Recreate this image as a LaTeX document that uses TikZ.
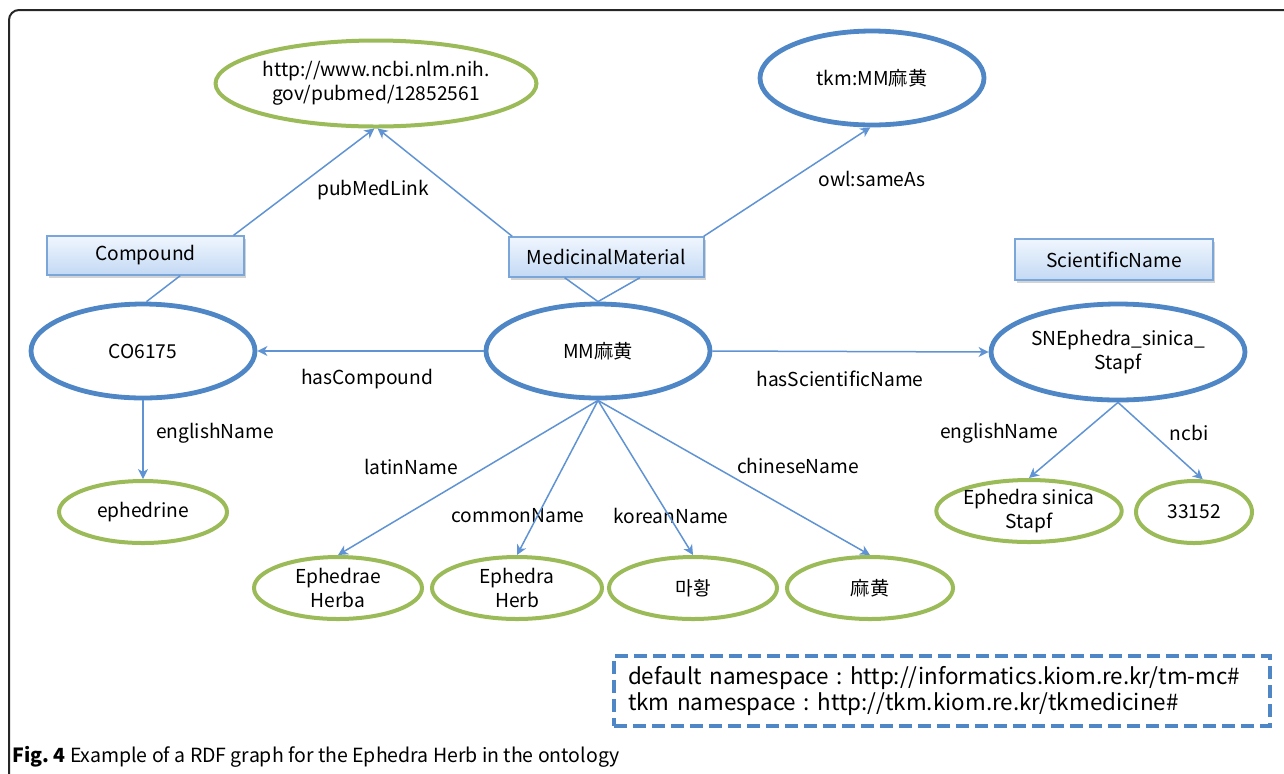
\documentclass[tikz,border=0pt]{standalone}
\usepackage{fontspec}
\setmainfont{Noto Sans CJK KR}
\frenchspacing
\usetikzlibrary{shapes.geometric,arrows.meta,calc,shadows}
\definecolor{nblue}{HTML}{4F86C6}
\definecolor{ngreen}{HTML}{9BBB59}
\definecolor{eblue}{HTML}{5F93D3}
\definecolor{bborder}{HTML}{7AA6DA}
\definecolor{btop}{HTML}{F0F6FE}
\definecolor{bbot}{HTML}{C3D9F4}
\begin{document}
\begin{tikzpicture}[x=0.5pt,y=-0.5pt,
  every node/.style={font=\fontsize{9.6}{12}\selectfont, inner sep=0pt},
  bluenode/.style={ellipse, draw=nblue, line width=2.4pt, align=center},
  greennode/.style={ellipse, draw=ngreen, line width=2pt, align=center},
  classbox/.style={rectangle, draw=bborder, line width=0.7pt, top color=btop, bottom color=bbot,
    drop shadow={shadow xshift=0.8pt, shadow yshift=-1.5pt, opacity=0.35}},
  conn/.style={draw=eblue, line width=0.75pt},
  arr/.style={conn, -{Stealth[length=5pt,width=5pt,inset=1.5pt]}},
  lbl/.style={text=black}
]
\useasboundingbox (0,0) rectangle (1284,773);
\draw[line width=1pt, draw=black!85, rounded corners=5pt] (1290,10) -- (9,10) -- (9,780);

% nodes
\node[greennode, minimum width=153pt, minimum height=43pt] (url) at (376,83.5) {http://www.ncbi.nlm.nih.\\gov/pubmed/12852561};
\node[bluenode, minimum width=112pt, minimum height=47pt] (tkm) at (872,78) {tkm:MM麻黄};
\node[classbox, minimum width=98.5pt, minimum height=19.5pt] (cmpd) at (145.5,255.5) {Compound};
\node[classbox, minimum width=97.5pt, minimum height=20pt] (mmc) at (606.5,257) {MedicinalMaterial};
\node[classbox, minimum width=99pt, minimum height=20.5pt] (snc) at (1114,259.5) {ScientificName};
\node[bluenode, minimum width=112pt, minimum height=47pt] (co) at (143,351) {CO6175};
\node[bluenode, minimum width=112pt, minimum height=47pt] (mm) at (598,351) {MM麻黄};
\node[bluenode, minimum width=127pt, minimum height=48pt] (sn) at (1118,352) {SNEphedra\_sinica\_\\Stapf};
\node[greennode, minimum width=84pt, minimum height=31pt] (eph) at (143,512) {ephedrine};
\node[greennode, minimum width=84pt, minimum height=31pt] (lat) at (338,588) {Ephedrae\\Herba};
\node[greennode, minimum width=85pt, minimum height=31pt] (com) at (517,588) {Ephedra\\Herb};
\node[greennode, minimum width=84pt, minimum height=31pt] (kor) at (693,588) {마황};
\node[greennode, minimum width=83pt, minimum height=31pt] (chi) at (870,588) {麻黄};
\node[greennode, minimum width=91pt, minimum height=31pt] (esn) at (1029,511) {Ephedra sinica\\Stapf};
\node[greennode, minimum width=58pt, minimum height=31pt] (ncb) at (1194,512) {33152};

% labels
\node[lbl] (l1) at (373,190) {pubMedLink};
\node[lbl] (l2) at (872,179) {owl:sameAs};
\node[lbl] (l3) at (367,379) {hasCompound};
\node[lbl] (l4) at (840,379) {hasScientificName};
\node[lbl] (l5) at (215,433) {englishName};
\node[lbl] (l6) at (411,467) {latinName};
\node[lbl] (l7) at (518,516) {commonName};
\node[lbl] (l8) at (671,516) {koreanName};
\node[lbl] (l9) at (798,466) {chineseName};
\node[lbl] (l10) at (999,433) {englishName};
\node[lbl] (l11) at (1189,433) {ncbi};

% connectors
\draw[arr] ($(cmpd.north west)!0.944!(cmpd.north east)$) -- (url.268);
\draw[arr] ($(mmc.north west)!0.02!(mmc.north east)$) -- (url.272);
\draw[arr] ($(mmc.north west)!0.995!(mmc.north east)$) -- (tkm.268);
\draw[conn] ($(cmpd.south west)!0.675!(cmpd.south east)$) -- (co.86);
\draw[conn] ($(mmc.south west)!0.287!(mmc.south east)$) -- (mm.north);
\draw[conn] ($(mmc.south west)!0.67!(mmc.south east)$) -- (mm.north);
\draw[arr] (mm.west) -- (co.east);
\draw[arr] (mm.east) -- (sn.west);
\draw[arr] (co.south) -- (eph.north);
\draw[arr] (mm.south) -- (lat.north);
\draw[arr] (mm.south) -- (com.north);
\draw[arr] (mm.south) -- (kor.north);
\draw[arr] (mm.south) -- (chi.north);
\draw[arr] (sn.south) -- (esn.north);
\draw[arr] (sn.south) -- (ncb.75);

% namespace box
\node[draw=nblue, line width=2pt, dash pattern=on 6.5pt off 3pt, text width=314pt, inner xsep=7pt,
  minimum height=35pt, align=left, font=\fontsize{11.2}{13}\selectfont] (ns) at (942,691)
  {\mbox{default namespace : http://informatics.kiom.re.kr/tm-mc\#}\\\mbox{tkm namespace : http://tkm.kiom.re.kr/tkmedicine\#}};

% caption
\node[anchor=west, font=\fontsize{9.75}{11}\selectfont] (cap) at (12,757)
  {\textbf{Fig. 4} Example of a RDF graph for the Ephedra Herb in the ontology};
\end{tikzpicture}
\end{document}
